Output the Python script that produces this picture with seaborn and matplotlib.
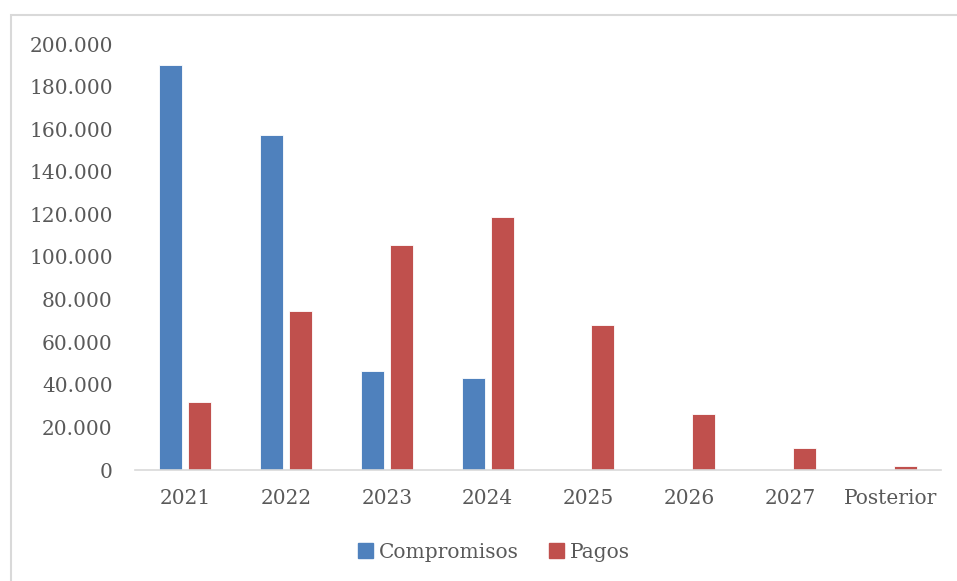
import pandas as pd
import numpy as np
import matplotlib.pyplot as plt
import seaborn as sns
from matplotlib.ticker import FuncFormatter
from matplotlib.patches import Rectangle

years = ["2021", "2022", "2023", "2024", "2025", "2026", "2027", "Posterior"]
compromisos = [190000, 157300, 46500, 43200, 0, 0, 0, 0]
pagos = [31900, 74600, 105600, 118800, 68100, 26300, 10300, 1900]
series = ["Compromisos", "Pagos"]
colors = ["#4F81BD", "#C0504D"]

df = pd.DataFrame({
    "year": years * 2,
    "serie": [series[0]] * len(years) + [series[1]] * len(years),
    "valor": compromisos + pagos,
})

sns.set_style("white")
plt.rcParams["font.family"] = ["DejaVu Serif"]
txt = "#595959"
fs = 14.5

fig = plt.figure(figsize=(9.57, 5.81), dpi=100)
ax = fig.add_axes([135 / 957, 1 - 470 / 581, (941 - 135) / 957, (470 - 44) / 581])

sns.barplot(data=df, x="year", y="valor", hue="serie", palette=colors, saturation=1,
            width=0.576, gap=0.21, edgecolor="white", linewidth=0.6, ax=ax)

ax.set_ylim(0, 200000)
ax.set_yticks(np.arange(0, 200001, 20000))
ax.yaxis.set_major_formatter(FuncFormatter(lambda v, p: f"{int(v):,}".replace(",", ".")))
ax.set_xlim(-0.5, len(years) - 0.5)
ax.set_xlabel("")
ax.set_ylabel("")
for s in ["top", "right", "left"]:
    ax.spines[s].set_visible(False)
ax.spines["bottom"].set_color("#D9D9D9")
ax.spines["bottom"].set_linewidth(1.2)
ax.tick_params(axis="y", length=0, pad=16, labelsize=fs, labelcolor=txt)
ax.tick_params(axis="x", length=0, pad=14, labelsize=fs, labelcolor=txt)

ax.legend_.remove()
handles = [Rectangle((0, 0), 1, 1, color=c) for c in colors]
fig.legend(handles, series, loc="center", bbox_to_anchor=(494 / 957, 1 - 552 / 581),
           ncol=2, frameon=False, fontsize=fs, labelcolor=txt,
           handlelength=0.75, handleheight=0.75, handletextpad=0.3, columnspacing=1.5)

fig.patches.append(Rectangle((11 / 957, -0.05), 1.1, 1 - 15 / 581 + 0.05,
                             transform=fig.transFigure, fill=False,
                             edgecolor="#D9D9D9", linewidth=1.5))

fig.savefig("out.png", dpi=100)
